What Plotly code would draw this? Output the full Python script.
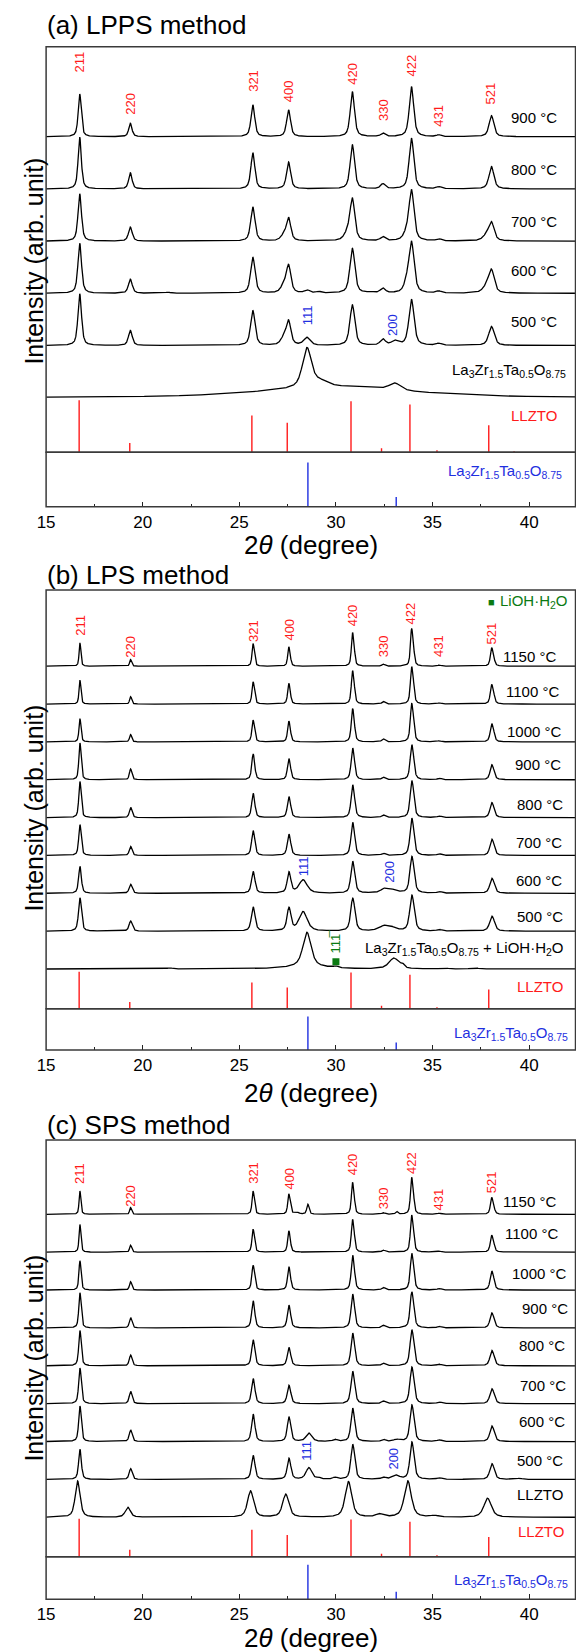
import numpy as np
import plotly.graph_objects as go

W, H = 576, 1652
FONT = "Arial, 'Liberation Sans', Helvetica, sans-serif"

# ---------------- data ----------------
HKL = ["211", "220", "321", "400", "420", "330", "422", "431", "521"]
LLZTO_PEAKS = [16.74, 19.36, 25.70, 27.55, 30.85, 32.43, 33.91, 35.32, 38.05]
LLZTO_REF_POS = [16.71, 19.33, 25.65, 27.48, 30.78, 32.36, 33.83, 35.23, 37.91, 39.22]
LLZTO_REF_INT = [100, 18, 71, 57, 98, 8, 92, 4, 52, 2]
LZTO_REF_POS = [28.55, 33.12]
LZTO_REF_INT = [100, 22]
LZTO_HKL = ["111", "200"]
LIOH_POS = [30.0]

# (a) LPPS method
A_LABELS = ["900 °C", "800 °C", "700 °C", "600 °C", "500 °C"]
A_900 = [42.7, 13.3, 31.7, 26.7, 45.0, 3.3, 50.0, 1.7, 21.0]
A_800 = [51.7, 16.0, 36.0, 26.7, 44.3, 5.0, 50.7, 2.0, 22.3]
A_700 = [47.3, 14.0, 34.0, 22.3, 40.7, 4.0, 50.0, 2.0, 17.3]
A_600 = [50.0, 14.0, 36.0, 26.7, 45.0, 4.7, 50.7, 2.0, 21.7]
A_500 = [51.7, 15.0, 35.0, 23.3, 40.7, 6.0, 46.0, 2.0, 19.0]
A_WIDTH = [0.24, 0.25, 0.27, 0.28, 0.28]
A_700_X = [27.30, 30.60, 33.65, 37.80]
A_700_I = [5.0, 7.0, 6.0, 5.0]
A_700_W = [0.35, 0.40, 0.35, 0.45]
A_600_X = [21.30, 27.30, 28.50, 29.10, 31.80, 33.65, 37.80]
A_600_I = [1.0, 7.0, 3.0, 1.5, 1.0, 8.0, 6.0]
A_600_W = [0.30, 0.35, 0.30, 0.30, 0.30, 0.30, 0.45]
A_500_X = [27.30, 28.50, 33.05]
A_500_I = [7.0, 7.7, 4.3]
A_500_W = [0.35, 0.40, 0.40]
A_AM_X = [28.50, 29.20, 30.00, 33.05]
A_AM_I = [39.0, 5.0, 11.0, 7.0]
A_AM_W = [0.55, 0.90, 9.00, 0.70]
A_AM_LABEL = "La<sub>3</sub>Zr<sub>1.5</sub>Ta<sub>0.5</sub>O<sub>8.75</sub>"

# (b) LPS method
B_LABELS = ["1150 °C", "1100 °C", "1000 °C", "900 °C", "800 °C", "700 °C", "600 °C", "500 °C"]
B_1150 = [23.3, 6.7, 22.7, 19.3, 33.7, 2.0, 37.7, 1.0, 18.7]
B_1100 = [24.0, 7.3, 22.3, 20.7, 33.3, 2.5, 37.3, 1.0, 19.7]
B_1000 = [23.3, 7.3, 21.7, 20.7, 33.3, 3.0, 38.3, 1.0, 18.3]
B_900 = [36.7, 10.7, 25.7, 21.0, 31.7, 2.5, 35.0, 1.5, 15.0]
B_800 = [36.0, 10.3, 24.3, 21.0, 32.7, 2.5, 37.0, 1.5, 15.0]
B_700 = [30.7, 9.0, 24.7, 21.3, 33.0, 2.0, 37.3, 1.5, 16.3]
B_600 = [26.7, 9.0, 21.7, 20.7, 31.7, 2.0, 36.7, 1.5, 15.0]
B_500 = [33.3, 10.0, 24.0, 22.7, 32.7, 2.0, 35.7, 1.5, 15.0]
B_WIDTH = [0.12, 0.13, 0.14, 0.16, 0.17, 0.18, 0.20, 0.22]
B_600_X = [28.30, 32.75]
B_600_I = [13.3, 4.3]
B_600_W = [0.50, 0.80]
B_500_X = [28.30, 32.20, 32.75]
B_500_I = [19.3, 1.5, 5.0]
B_500_W = [0.50, 0.40, 0.70]
B_MIX_X = [21.40, 28.50, 28.50, 30.00, 33.00, 33.45, 35.60, 37.20]
B_MIX_I = [1.0, 34.0, 2.7, 1.5, 10.7, 3.0, 1.0, 1.0]
B_MIX_W = [0.30, 0.50, 2.50, 0.25, 0.60, 0.20, 0.40, 0.40]
B_MIX_LABEL = ("La<sub>3</sub>Zr<sub>1.5</sub>Ta<sub>0.5</sub>O<sub>8.75</sub>"
               " + LiOH·H<sub>2</sub>O")

# (c) SPS method
C_LABELS = ["1150 °C", "1100 °C", "1000 °C", "900 °C", "800 °C", "700 °C", "600 °C", "500 °C"]
C_1150 = [23.3, 6.7, 23.3, 20.3, 32.0, 1.5, 37.0, 1.0, 17.0]
C_1100 = [27.7, 7.0, 23.0, 21.3, 32.7, 2.0, 37.0, 1.0, 17.0]
C_1000 = [29.3, 8.3, 24.7, 23.3, 34.7, 2.5, 36.7, 1.5, 19.0]
C_900 = [35.0, 10.3, 27.0, 22.7, 33.7, 2.5, 36.0, 1.5, 15.0]
C_800 = [35.3, 10.7, 26.0, 18.3, 32.7, 2.5, 36.0, 1.5, 15.3]
C_700 = [35.7, 12.3, 25.0, 18.3, 32.3, 2.5, 36.7, 1.5, 15.0]
C_600 = [35.6, 11.6, 27.3, 24.6, 33.3, 2.0, 36.6, 1.5, 15.6]
C_500 = [30.0, 10.7, 24.0, 21.0, 35.0, 2.0, 37.3, 1.5, 15.7]
C_WIDTH = [0.12, 0.13, 0.15, 0.17, 0.18, 0.19, 0.19, 0.20]
C_1150_X = [27.85, 28.05, 28.55, 33.15]
C_1150_I = [1.5, 1.5, 10.0, 2.7]
C_1150_W = [0.15, 0.15, 0.14, 0.14]
C_600_X = [28.60, 29.95, 33.15]
C_600_I = [8.3, 2.0, 2.0]
C_600_W = [0.35, 0.25, 0.40]
C_500_X = [28.60, 29.10, 29.95, 33.10, 39.50]
C_500_I = [11.7, 1.5, 2.0, 4.0, 1.0]
C_500_W = [0.35, 0.20, 0.25, 0.45, 0.30]
C_PW_LABEL = "LLZTO"
C_PW_X = [16.63, 19.23, 25.58, 27.40, 30.65, 32.25, 33.72, 35.10, 37.85]
C_PW_I = [36.3, 10.0, 26.3, 23.0, 35.6, 3.0, 36.3, 1.5, 19.0]
C_PW_WIDTH = 0.38

# ---------------- profile synthesis ----------------
x = np.round(np.arange(15.0, 42.401, 0.01), 3)


def pv(c, w, eta):
    d = (x - c) / w
    return eta / (1 + 4 * d * d) + (1 - eta) * np.exp(-4 * np.log(2) * d * d)


def profile(pos, ints, widths, ka2=False, eta=0.6):
    y = np.zeros_like(x)
    for c, h, w in zip(pos, ints, widths):
        shape = pv(c, w, eta)
        if ka2:
            d2 = np.degrees(2 * np.tan(np.radians(c / 2)) * 0.002485)
            shape = shape + 0.5 * pv(c + d2, w, eta)
        y += h * shape / shape.max()
    return y


def llzto(ints, w, ex_x=(), ex_i=(), ex_w=(), ka2=False, pos=LLZTO_PEAKS):
    ws = [w * (0.75 + 0.5 * (c - 15) / 25) for c in pos]
    y = profile(pos, ints, ws, ka2)
    if len(ex_x):
        y = y + profile(ex_x, ex_i, ex_w, False)
    return y


def xp(px):
    return px / W


def yp(py):
    return 1 - py / H


X0, X1 = 37.7, 575.5
XR = [15, 42.4]
PANELS = {
    "a": dict(top=46.7, sep=452.3, bot=506.7),
    "b": dict(top=590.0, sep=1008.7, bot=1050.0),
    "c": dict(top=1140.0, sep=1556.7, bot=1599.3),
}

fig = go.Figure()
ann = []
BLACK = "black"
RED = "#ff1a1a"
BLUE = "#1f2fe0"
GREEN = "#0b7a12"


def add_curve(xa, ya, y):
    fig.add_trace(go.Scatter(x=x, y=y, mode="lines", xaxis=xa, yaxis=ya,
                             line=dict(color=BLACK, width=1.3), hoverinfo="skip",
                             showlegend=False))


def add_sticks(xa, ya, pos, ints, scale, color):
    xs, ys = [], []
    for p, v in zip(pos, ints):
        xs += [p, p, None]
        ys += [0, v * scale, None]
    fig.add_trace(go.Scatter(x=xs, y=ys, mode="lines", xaxis=xa, yaxis=ya,
                             line=dict(color=color, width=1.4), hoverinfo="skip",
                             showlegend=False))


def text(xv, yv, s, size, color=BLACK, xref="paper", angle=0, xanchor="center"):
    ann.append(dict(x=xv, y=yp(yv), xref=xref, yref="paper", text=s, showarrow=False,
                    font=dict(family=FONT, size=size, color=color), textangle=angle,
                    xanchor=xanchor, yanchor="middle"))


# ---- panel (a) ----
pa = PANELS["a"]
a_curves = [
    llzto(A_900, A_WIDTH[0]),
    llzto(A_800, A_WIDTH[1]),
    llzto(A_700, A_WIDTH[2], A_700_X, A_700_I, A_700_W),
    llzto(A_600, A_WIDTH[3], A_600_X, A_600_I, A_600_W),
    llzto(A_500, A_WIDTH[4], A_500_X, A_500_I, A_500_W),
]
a_am = profile(A_AM_X, A_AM_I, A_AM_W, eta=0.6)
a_base0, a_step = 54.6, 52.2
n = len(a_curves)
for i, yv in enumerate(a_curves):
    add_curve("x", "y", yv + a_base0 + a_step * (n - i))
add_curve("x", "y", a_am + a_base0)
add_sticks("x", "y", LLZTO_REF_POS, LLZTO_REF_INT, 0.52, RED)
add_sticks("x", "y2", LZTO_REF_POS, LZTO_REF_INT, 1.0, BLUE)

A_HKL_Y = [61.7, 103.3, 81, 91.7, 73.3, 110, 65, 116, 93]
for p, lab, yy in zip(LLZTO_PEAKS, HKL, A_HKL_Y):
    text(p, yy, lab, 13, RED, "x", -90)
text(28.5, 315.3, LZTO_HKL[0], 13, BLUE, "x", -90)
text(32.9, 325.0, LZTO_HKL[1], 13, BLUE, "x", -90)
for lab, yy in zip(A_LABELS, [118, 170, 221.7, 270.7, 321.7]):
    text(xp(533), yy, lab, 15)
text(xp(508), 370, A_AM_LABEL, 15)
text(xp(533), 416, "LLZTO", 15, RED)
text(xp(504), 471.7, A_AM_LABEL, 15, BLUE)

# ---- panel (b) ----
pb = PANELS["b"]
b_curves = [
    llzto(B_1150, B_WIDTH[0], ka2=True),
    llzto(B_1100, B_WIDTH[1], ka2=True),
    llzto(B_1000, B_WIDTH[2], ka2=True),
    llzto(B_900, B_WIDTH[3], ka2=True),
    llzto(B_800, B_WIDTH[4], ka2=True),
    llzto(B_700, B_WIDTH[5], ka2=True),
    llzto(B_600, B_WIDTH[6], B_600_X, B_600_I, B_600_W, ka2=True),
    llzto(B_500, B_WIDTH[7], B_500_X, B_500_I, B_500_W, ka2=True),
]
b_mix = profile(B_MIX_X, B_MIX_I, B_MIX_W, eta=0.6)
b_base0, b_step = 39.7, 37.85
n = len(b_curves)
for i, yv in enumerate(b_curves):
    add_curve("x2", "y3", yv + b_base0 + b_step * (n - i))
add_curve("x2", "y3", b_mix + b_base0)
fig.add_trace(go.Scatter(x=LIOH_POS, y=[1008.7 - 961.7 for _ in LIOH_POS], mode="markers",
                         xaxis="x2", yaxis="y3", marker=dict(symbol="square", size=7, color=GREEN),
                         hoverinfo="skip", showlegend=False))
add_sticks("x2", "y3", LLZTO_REF_POS, LLZTO_REF_INT, 0.37, RED)
add_sticks("x2", "y4", LZTO_REF_POS, LZTO_REF_INT, 1.0, BLUE)

B_HKL_Y = [625, 646.3, 631.2, 630, 615, 646.3, 613, 646.3, 633]
for p, lab, yy in zip(LLZTO_PEAKS, HKL, B_HKL_Y):
    text(p, yy, lab, 13, RED, "x2", -90)
text(28.32, 865.8, LZTO_HKL[0], 13, BLUE, "x2", -90)
text(32.8, 871.7, LZTO_HKL[1], 13, BLUE, "x2", -90)
text(LIOH_POS[0], 941.5, "11" + "1\u0305", 13, GREEN, "x2", -90)
for lab, xx, yy in zip(B_LABELS, [529, 532, 534, 537, 539, 538, 538, 539],
                       [656.7, 691.7, 731, 764.3, 804, 842.3, 880, 916]):
    text(xp(xx), yy, lab, 15)
text(xp(463), 948.3, B_MIX_LABEL, 15)
text(xp(539.6), 986, "LLZTO", 15, RED)
text(xp(510), 1033.3, A_AM_LABEL, 15, BLUE)
text(xp(485), 601.7, "■", 11, GREEN, xanchor="left")
text(xp(497), 601.7, "LiOH·H<sub>2</sub>O", 15, GREEN, xanchor="left")

# ---- panel (c) ----
pc = PANELS["c"]
c_curves = [
    llzto(C_1150, C_WIDTH[0], C_1150_X, C_1150_I, C_1150_W, ka2=True),
    llzto(C_1100, C_WIDTH[1], ka2=True),
    llzto(C_1000, C_WIDTH[2], ka2=True),
    llzto(C_900, C_WIDTH[3], ka2=True),
    llzto(C_800, C_WIDTH[4], ka2=True),
    llzto(C_700, C_WIDTH[5], ka2=True),
    llzto(C_600, C_WIDTH[6], C_600_X, C_600_I, C_600_W, ka2=True),
    llzto(C_500, C_WIDTH[7], C_500_X, C_500_I, C_500_W, ka2=True),
]
c_pw = llzto(C_PW_I, C_PW_WIDTH, pos=C_PW_X)
c_base0, c_step = 39.4, 37.875
n = len(c_curves)
for i, yv in enumerate(c_curves):
    add_curve("x3", "y5", yv + c_base0 + c_step * (n - i))
add_curve("x3", "y5", c_pw + c_base0)
add_sticks("x3", "y5", LLZTO_REF_POS, LLZTO_REF_INT, 0.38, RED)
add_sticks("x3", "y6", LZTO_REF_POS, LZTO_REF_INT, 1.0, BLUE)

C_HKL_Y = [1173.3, 1195.5, 1173, 1179, 1164, 1198.3, 1162.5, 1199.7, 1181.7]
for p, lab, yy in zip(LLZTO_PEAKS, HKL, C_HKL_Y):
    text(p, yy, lab, 13, RED, "x3", -90)
text(28.5, 1450.8, LZTO_HKL[0], 13, BLUE, "x3", -90)
text(33.0, 1458.7, LZTO_HKL[1], 13, BLUE, "x3", -90)
for lab, xx, yy in zip(C_LABELS, [529, 531, 539, 544, 541, 542, 541, 539],
                       [1201.7, 1233.3, 1273.3, 1308.3, 1345.7, 1385.7, 1421.7, 1460]):
    text(xp(xx), yy, lab, 15)
text(xp(539), 1494.3, C_PW_LABEL, 15)
text(xp(540), 1531.7, "LLZTO", 15, RED)
text(xp(510), 1580, A_AM_LABEL, 15, BLUE)

# ---- titles / axis titles ----
for t, yy in [("(a) LPPS method", 25), ("(b) LPS method", 575), ("(c) SPS method", 1125)]:
    text(xp(36.5), yy, t, 26, xanchor="left")
for yy in [545, 1093, 1638]:
    text(xp((X0 + X1) / 2), yy, "2<i>θ</i> (degree)", 26)
for yy in [261, 808, 1358]:
    text(xp(25), yy, "Intensity (arb. unit)", 25, angle=-90)

shapes = []
for key in "abc":
    p = PANELS[key]
    for y0, y1 in [(p["top"], p["sep"]), (p["sep"], p["bot"])]:
        shapes.append(dict(type="rect", xref="paper", yref="paper",
                           x0=xp(X0), x1=xp(X1), y0=yp(y1), y1=yp(y0),
                           line=dict(color="#3a3a3a", width=1.5), fillcolor="rgba(0,0,0,0)"))

axis_common = dict(range=XR, domain=[xp(X0), xp(X1)], tickmode="array",
                   tickvals=[15, 20, 25, 30, 35, 40], ticks="inside", ticklen=5,
                   tickwidth=1.3, tickcolor="#222", showgrid=False, zeroline=False,
                   showline=False, tickfont=dict(family=FONT, size=17, color="black"),
                   minor=dict(tickvals=[17.5, 22.5, 27.5, 32.5, 37.5, 42.5], ticks="inside",
                              ticklen=3, tickwidth=1.2, tickcolor="#222"),
                   ticklabelstandoff=3, fixedrange=True)
yhide = dict(showticklabels=False, showgrid=False, zeroline=False, showline=False,
             ticks="", fixedrange=True)


def dom(top, bottom):
    return [yp(bottom), yp(top)]


fig.update_layout(
    width=W, height=H, margin=dict(l=0, r=0, t=0, b=0),
    paper_bgcolor="white", plot_bgcolor="white",
    font=dict(family=FONT, color="black"),
    xaxis=dict(axis_common, anchor="y2"),
    xaxis2=dict(axis_common, anchor="y4"),
    xaxis3=dict(axis_common, anchor="y6"),
    yaxis=dict(yhide, domain=dom(pa["top"], pa["sep"]), range=[0, pa["sep"] - pa["top"]], anchor="x"),
    yaxis2=dict(yhide, domain=dom(pa["sep"], pa["bot"]), range=[0, 123], anchor="x"),
    yaxis3=dict(yhide, domain=dom(pb["top"], pb["sep"]), range=[0, pb["sep"] - pb["top"]], anchor="x2"),
    yaxis4=dict(yhide, domain=dom(pb["sep"], pb["bot"]), range=[0, 123], anchor="x2"),
    yaxis5=dict(yhide, domain=dom(pc["top"], pc["sep"]), range=[0, pc["sep"] - pc["top"]], anchor="x3"),
    yaxis6=dict(yhide, domain=dom(pc["sep"], pc["bot"]), range=[0, 123], anchor="x3"),
    annotations=ann, shapes=shapes, showlegend=False,
)

fig.write_html("out.html", config={"displayModeBar": False},
               post_script="document.body.style.margin='0';document.body.style.overflow='hidden';")
